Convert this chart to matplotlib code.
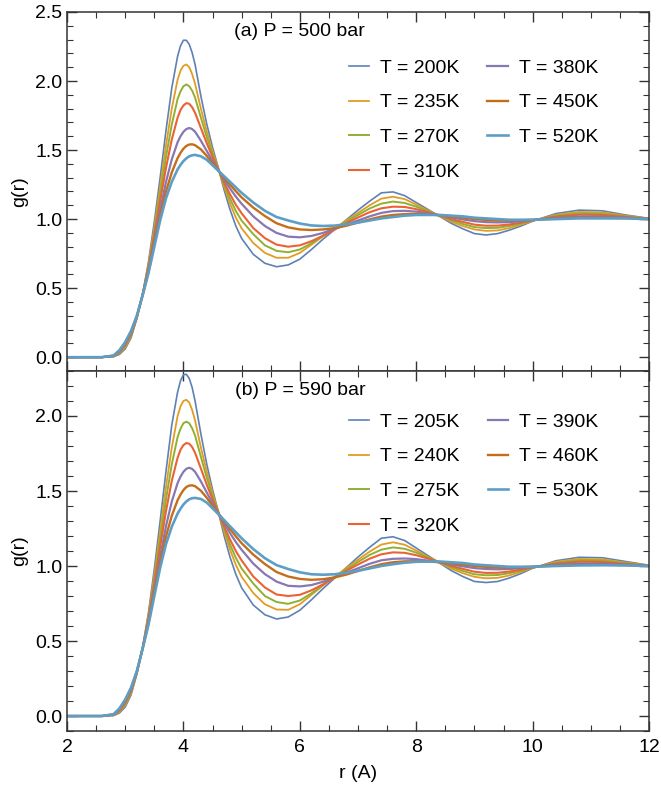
import matplotlib
matplotlib.use("Agg")
import matplotlib.pyplot as plt
from matplotlib.ticker import MultipleLocator, FormatStrFormatter

plt.rcParams['font.family'] = ['Liberation Sans', 'DejaVu Sans']

# ---- data ----
r = [2.0, 2.6, 2.8, 2.9, 3.0, 3.1, 3.2, 3.3, 3.4, 3.5, 3.6, 3.7, 3.8, 3.9, 3.95,
     4.0, 4.05, 4.1, 4.15, 4.2, 4.3, 4.4, 4.5, 4.6, 4.7, 4.8, 4.9, 5.0, 5.2, 5.4, 5.6,
     5.8, 6.0, 6.2, 6.4, 6.6, 6.8, 7.0, 7.2, 7.4, 7.6, 7.8, 8.0, 8.2, 8.4,
     8.6, 8.8, 9.0, 9.2, 9.4, 9.6, 9.8, 10.0, 10.4, 10.8, 11.2, 11.6, 12.0]

# (a) P = 500 bar
temps_a = ['200K', '235K', '270K', '310K', '380K', '450K', '520K']
g_a_200 = [0.0, 0.0, 0.003, 0.02, 0.06, 0.14, 0.28, 0.46, 0.69, 0.98, 1.30, 1.64, 1.95, 2.18, 2.255,
           2.295, 2.295, 2.265, 2.205, 2.12, 1.89, 1.69, 1.52, 1.37, 1.21, 1.07, 0.95, 0.86, 0.745, 0.68, 0.655,
           0.668, 0.71, 0.78, 0.855, 0.925, 0.995, 1.065, 1.13, 1.19, 1.197, 1.17, 1.12, 1.07, 1.02,
           0.97, 0.93, 0.895, 0.885, 0.895, 0.92, 0.95, 0.985, 1.04, 1.065, 1.06, 1.03, 1.005]
g_a_235 = [0.0, 0.0, 0.005, 0.027, 0.071, 0.151, 0.284, 0.458, 0.672, 0.94, 1.232, 1.532, 1.80, 2.01, 2.075,
           2.11, 2.12, 2.10, 2.05, 1.98, 1.80, 1.636, 1.493, 1.366, 1.232, 1.114, 1.012, 0.933, 0.827, 0.755, 0.72,
           0.72, 0.755, 0.815, 0.875, 0.93, 0.99, 1.045, 1.10, 1.148, 1.162, 1.145, 1.105, 1.063, 1.022,
           0.982, 0.95, 0.925, 0.915, 0.918, 0.935, 0.96, 0.987, 1.031, 1.052, 1.048, 1.025, 1.004]
g_a_270 = [0.0, 0.0, 0.0065, 0.032, 0.08, 0.16, 0.288, 0.456, 0.659, 0.91, 1.179, 1.449, 1.685, 1.87, 1.925,
           1.962, 1.975, 1.962, 1.93, 1.88, 1.735, 1.595, 1.472, 1.362, 1.249, 1.148, 1.059, 0.989, 0.891, 0.81, 0.77,
           0.76, 0.78, 0.825, 0.88, 0.93, 0.98, 1.03, 1.077, 1.112, 1.127, 1.117, 1.09, 1.057, 1.025,
           0.992, 0.965, 0.942, 0.935, 0.937, 0.95, 0.968, 0.989, 1.024, 1.042, 1.039, 1.02, 1.003]
g_a_310 = [0.0, 0.0, 0.008, 0.037, 0.088, 0.168, 0.291, 0.455, 0.646, 0.881, 1.13, 1.37, 1.576, 1.735, 1.79,
           1.823, 1.84, 1.835, 1.81, 1.77, 1.66, 1.55, 1.45, 1.359, 1.265, 1.18, 1.104, 1.042, 0.935, 0.862, 0.815,
           0.80, 0.81, 0.84, 0.88, 0.925, 0.97, 1.012, 1.05, 1.078, 1.09, 1.088, 1.072, 1.05, 1.027,
           1.0, 0.98, 0.96, 0.952, 0.953, 0.961, 0.975, 0.991, 1.018, 1.032, 1.03, 1.016, 1.002]
g_a_380 = [0.0, 0.0, 0.01, 0.043, 0.098, 0.178, 0.295, 0.452, 0.629, 0.843, 1.064, 1.268, 1.433, 1.557, 1.60,
           1.632, 1.652, 1.66, 1.652, 1.633, 1.568, 1.494, 1.421, 1.355, 1.286, 1.222, 1.163, 1.111, 1.02, 0.95, 0.90,
           0.873, 0.868, 0.878, 0.90, 0.93, 0.96, 0.99, 1.02, 1.045, 1.058, 1.06, 1.054, 1.042, 1.028,
           1.012, 0.998, 0.985, 0.978, 0.976, 0.978, 0.984, 0.993, 1.01, 1.019, 1.018, 1.011, 1.001]
g_a_450 = [0.0, 0.0, 0.011, 0.047, 0.105, 0.185, 0.298, 0.451, 0.618, 0.818, 1.021, 1.199, 1.338, 1.442, 1.48,
           1.51, 1.53, 1.54, 1.542, 1.535, 1.505, 1.458, 1.404, 1.352, 1.30, 1.25, 1.202, 1.157, 1.083, 1.022, 0.97,
           0.94, 0.925, 0.921, 0.925, 0.935, 0.952, 0.975, 0.998, 1.018, 1.03, 1.036, 1.037, 1.034, 1.028,
           1.02, 1.011, 1.0, 0.994, 0.99, 0.99, 0.992, 0.995, 1.004, 1.01, 1.01, 1.007, 1.0]
g_a_520 = [0.0, 0.0, 0.012, 0.05, 0.11, 0.19, 0.30, 0.45, 0.61, 0.80, 0.99, 1.15, 1.27, 1.36, 1.393,
           1.42, 1.44, 1.455, 1.462, 1.465, 1.455, 1.43, 1.39, 1.35, 1.31, 1.27, 1.23, 1.19, 1.12, 1.06, 1.015,
           0.99, 0.968, 0.954, 0.95, 0.953, 0.962, 0.975, 0.99, 1.005, 1.015, 1.025, 1.03, 1.03, 1.03,
           1.025, 1.02, 1.01, 1.005, 1.0, 0.995, 0.995, 0.995, 1.0, 1.005, 1.005, 1.005, 1.0]

# (b) P = 590 bar
temps_b = ['205K', '240K', '275K', '320K', '390K', '460K', '530K']
g_b_205 = [0.0, 0.0, 0.003, 0.02, 0.06, 0.14, 0.28, 0.46, 0.69, 0.98, 1.30, 1.63, 1.94, 2.16, 2.235,
           2.275, 2.278, 2.25, 2.19, 2.10, 1.88, 1.68, 1.51, 1.36, 1.20, 1.06, 0.945, 0.855, 0.74, 0.675, 0.647,
           0.66, 0.705, 0.775, 0.85, 0.92, 0.99, 1.06, 1.125, 1.185, 1.195, 1.17, 1.12, 1.07, 1.02,
           0.97, 0.93, 0.897, 0.89, 0.897, 0.92, 0.95, 0.985, 1.035, 1.058, 1.055, 1.03, 1.005]
g_b_240 = [0.0, 0.0, 0.005, 0.027, 0.071, 0.151, 0.284, 0.458, 0.672, 0.94, 1.23, 1.525, 1.79, 2.0, 2.065,
           2.10, 2.108, 2.09, 2.04, 1.97, 1.79, 1.63, 1.488, 1.362, 1.228, 1.11, 1.008, 0.928, 0.82, 0.745, 0.71,
           0.708, 0.745, 0.808, 0.87, 0.927, 0.987, 1.042, 1.096, 1.143, 1.158, 1.142, 1.103, 1.062, 1.022,
           0.983, 0.952, 0.928, 0.918, 0.921, 0.937, 0.961, 0.987, 1.028, 1.047, 1.044, 1.023, 1.004]
g_b_275 = [0.0, 0.0, 0.0065, 0.032, 0.08, 0.16, 0.288, 0.456, 0.659, 0.91, 1.176, 1.443, 1.678, 1.86, 1.915,
           1.952, 1.962, 1.952, 1.918, 1.87, 1.728, 1.59, 1.468, 1.36, 1.246, 1.144, 1.055, 0.983, 0.883, 0.80, 0.76,
           0.748, 0.77, 0.818, 0.875, 0.927, 0.977, 1.027, 1.074, 1.109, 1.124, 1.115, 1.089, 1.057, 1.025,
           0.993, 0.967, 0.945, 0.938, 0.94, 0.952, 0.969, 0.989, 1.021, 1.038, 1.036, 1.018, 1.003]
g_b_320 = [0.0, 0.0, 0.008, 0.037, 0.088, 0.168, 0.291, 0.455, 0.646, 0.881, 1.128, 1.365, 1.568, 1.722, 1.775,
           1.806, 1.82, 1.815, 1.793, 1.755, 1.65, 1.543, 1.445, 1.356, 1.263, 1.177, 1.10, 1.037, 0.93, 0.857, 0.81,
           0.80, 0.808, 0.838, 0.878, 0.923, 0.968, 1.01, 1.049, 1.078, 1.091, 1.088, 1.072, 1.05, 1.027,
           1.001, 0.981, 0.962, 0.954, 0.955, 0.963, 0.976, 0.991, 1.016, 1.029, 1.027, 1.014, 1.002]
g_b_390 = [0.0, 0.0, 0.01, 0.043, 0.098, 0.178, 0.295, 0.452, 0.629, 0.843, 1.062, 1.265, 1.43, 1.553, 1.596,
           1.628, 1.648, 1.655, 1.647, 1.628, 1.564, 1.491, 1.419, 1.353, 1.284, 1.22, 1.16, 1.108, 1.016, 0.946, 0.896,
           0.868, 0.864, 0.873, 0.895, 0.925, 0.955, 0.985, 1.015, 1.038, 1.048, 1.05, 1.046, 1.036, 1.025,
           1.011, 0.998, 0.986, 0.98, 0.978, 0.98, 0.986, 0.994, 1.009, 1.017, 1.016, 1.01, 1.001]
g_b_460 = [0.0, 0.0, 0.011, 0.047, 0.105, 0.185, 0.298, 0.451, 0.618, 0.818, 1.02, 1.197, 1.335, 1.439, 1.476,
           1.506, 1.527, 1.536, 1.538, 1.532, 1.502, 1.455, 1.402, 1.35, 1.298, 1.247, 1.198, 1.152, 1.076, 1.013, 0.96,
           0.93, 0.914, 0.908, 0.912, 0.924, 0.943, 0.967, 0.991, 1.012, 1.025, 1.031, 1.032, 1.03, 1.025,
           1.018, 1.01, 1.0, 0.994, 0.99, 0.99, 0.992, 0.995, 1.003, 1.009, 1.009, 1.006, 1.0]
g_b_530 = [0.0, 0.0, 0.012, 0.05, 0.11, 0.19, 0.30, 0.45, 0.61, 0.80, 0.988, 1.145, 1.262, 1.35, 1.382,
           1.41, 1.43, 1.445, 1.452, 1.454, 1.447, 1.423, 1.385, 1.346, 1.306, 1.265, 1.225, 1.185, 1.113, 1.052, 1.006,
           0.98, 0.958, 0.945, 0.942, 0.945, 0.955, 0.968, 0.984, 1.0, 1.012, 1.022, 1.028, 1.03, 1.03,
           1.025, 1.02, 1.01, 1.005, 1.0, 0.995, 0.995, 0.995, 1.0, 1.004, 1.005, 1.004, 1.0]

series_a = [g_a_200, g_a_235, g_a_270, g_a_310, g_a_380, g_a_450, g_a_520]
series_b = [g_b_205, g_b_240, g_b_275, g_b_320, g_b_390, g_b_460, g_b_530]

# Mathematica default palette
colors = ['#5E81B5', '#E19C24', '#8FB032', '#EB6235', '#8778B3', '#C56E1A', '#5D9EC7']
widths = [1.2, 1.3, 1.4, 1.5, 1.6, 1.7, 1.9]

fig = plt.figure(figsize=(6.61, 7.88), dpi=100)
ax1 = fig.add_axes([0.1014, 0.5292, 0.8805, 0.4556])
ax2 = fig.add_axes([0.1014, 0.0723, 0.8805, 0.4569], sharex=ax1)


def draw(ax, series, temps, title, ylim, ytop, leg_y):
    for g, t, c, w in zip(series, temps, colors, widths):
        ax.plot(r, g, color=c, lw=w, label='T = ' + t)
    ax.set_xlim(2, 12)
    ax.set_ylim(*ylim)
    ax.xaxis.set_major_locator(MultipleLocator(2))
    ax.xaxis.set_minor_locator(MultipleLocator(0.5))
    ax.set_yticks([v / 2 for v in range(int(ytop * 2) + 1)])
    ax.yaxis.set_minor_locator(MultipleLocator(0.1))
    ax.yaxis.set_major_formatter(FormatStrFormatter('%.1f'))
    ax.tick_params(which='both', direction='in', top=True, right=True,
                   labelsize=14, color='#333333')
    ax.tick_params(which='major', length=7, width=1)
    ax.tick_params(which='minor', length=4, width=0.8)
    for s in ax.spines.values():
        s.set_linewidth(1.1)
        s.set_color('#333333')
    ax.set_ylabel('g(r)', fontsize=14)
    ax.text(0.40, 0.947, title, transform=ax.transAxes, ha='center', va='center', fontsize=14)
    ax.legend(loc='upper left', bbox_to_anchor=(0.484, leg_y), ncol=2, frameon=False,
              fontsize=14, handlelength=1.05, handletextpad=0.55, columnspacing=1.45,
              labelspacing=0.88, borderpad=0, borderaxespad=0)


draw(ax1, series_a, temps_a, '(a) P = 500 bar', (-0.1, 2.5), 2.5, 0.869)
draw(ax2, series_b, temps_b, '(b) P = 590 bar', (-0.1, 2.3), 2.0, 0.883)

plt.setp(ax1.get_xticklabels(), visible=False)
ax2.set_xlabel('r (A)', fontsize=14, labelpad=6)
ax2.tick_params(axis='x', pad=6)
ax1.yaxis.set_label_coords(-0.067, 0.5)
ax2.yaxis.set_label_coords(-0.067, 0.5)

plt.savefig('out.png', dpi=100)
